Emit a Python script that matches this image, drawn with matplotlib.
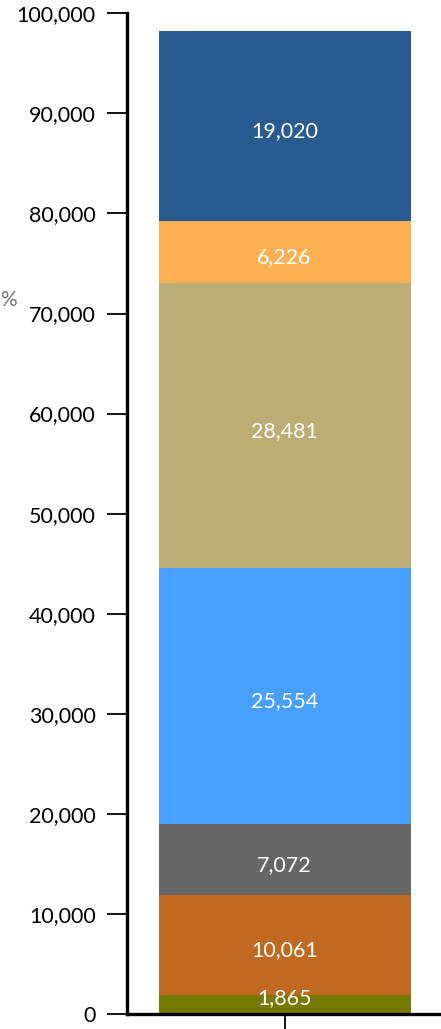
import matplotlib
matplotlib.use("Agg")
import matplotlib.pyplot as plt
from matplotlib.ticker import FuncFormatter

plt.rcParams['font.family'] = ['Lato', 'DejaVu Sans']

categories = [""]
values = [1865, 10061, 7072, 25554, 28481, 6226, 19020]
colors = ["#757B00", "#C06A21", "#666666", "#479FFF", "#BCAD74", "#FDB052", "#285B8F"]
yticks = [0, 10000, 20000, 30000, 40000, 50000, 60000, 70000, 80000, 90000, 100000]

fig = plt.figure(figsize=(4.41, 10.29), dpi=100)
ax = fig.add_axes([127/441, 15/1029, 315/441, 0.97249])

bottom = 0
for v, c in zip(values, colors):
    ax.bar(0, v, bottom=bottom, width=0.8, color=c, linewidth=0, zorder=2)
    dy = 4.5 if v < 3000 else -4.0
    ax.annotate(f"{v:,}", xy=(0, bottom + v/2), xytext=(0, dy),
                textcoords='offset points', ha='center', va='center',
                color='white', fontsize=15.5, zorder=3)
    bottom += v

ax.set_xlim(-0.5, 0.5)
ax.set_ylim(0, 100000)
ax.set_yticks(yticks)
ax.yaxis.set_major_formatter(FuncFormatter(lambda x, p: f"{int(x):,}"))
ax.set_xticks([0])
ax.set_xticklabels(categories)
ax.tick_params(axis='y', length=14.5, width=1.3, labelsize=15.5, pad=8, colors='black')
ax.tick_params(axis='x', length=12, width=1.3)
for s in ['top', 'right']:
    ax.spines[s].set_visible(False)
for s in ['left', 'bottom']:
    ax.spines[s].set_linewidth(2.4)
    ax.spines[s].set_zorder(4)

fig.text(0.5/441, 1 - 300/1029, "%", ha='left', va='center', color='#777777', fontsize=15)

fig.savefig("out.png", dpi=100)
